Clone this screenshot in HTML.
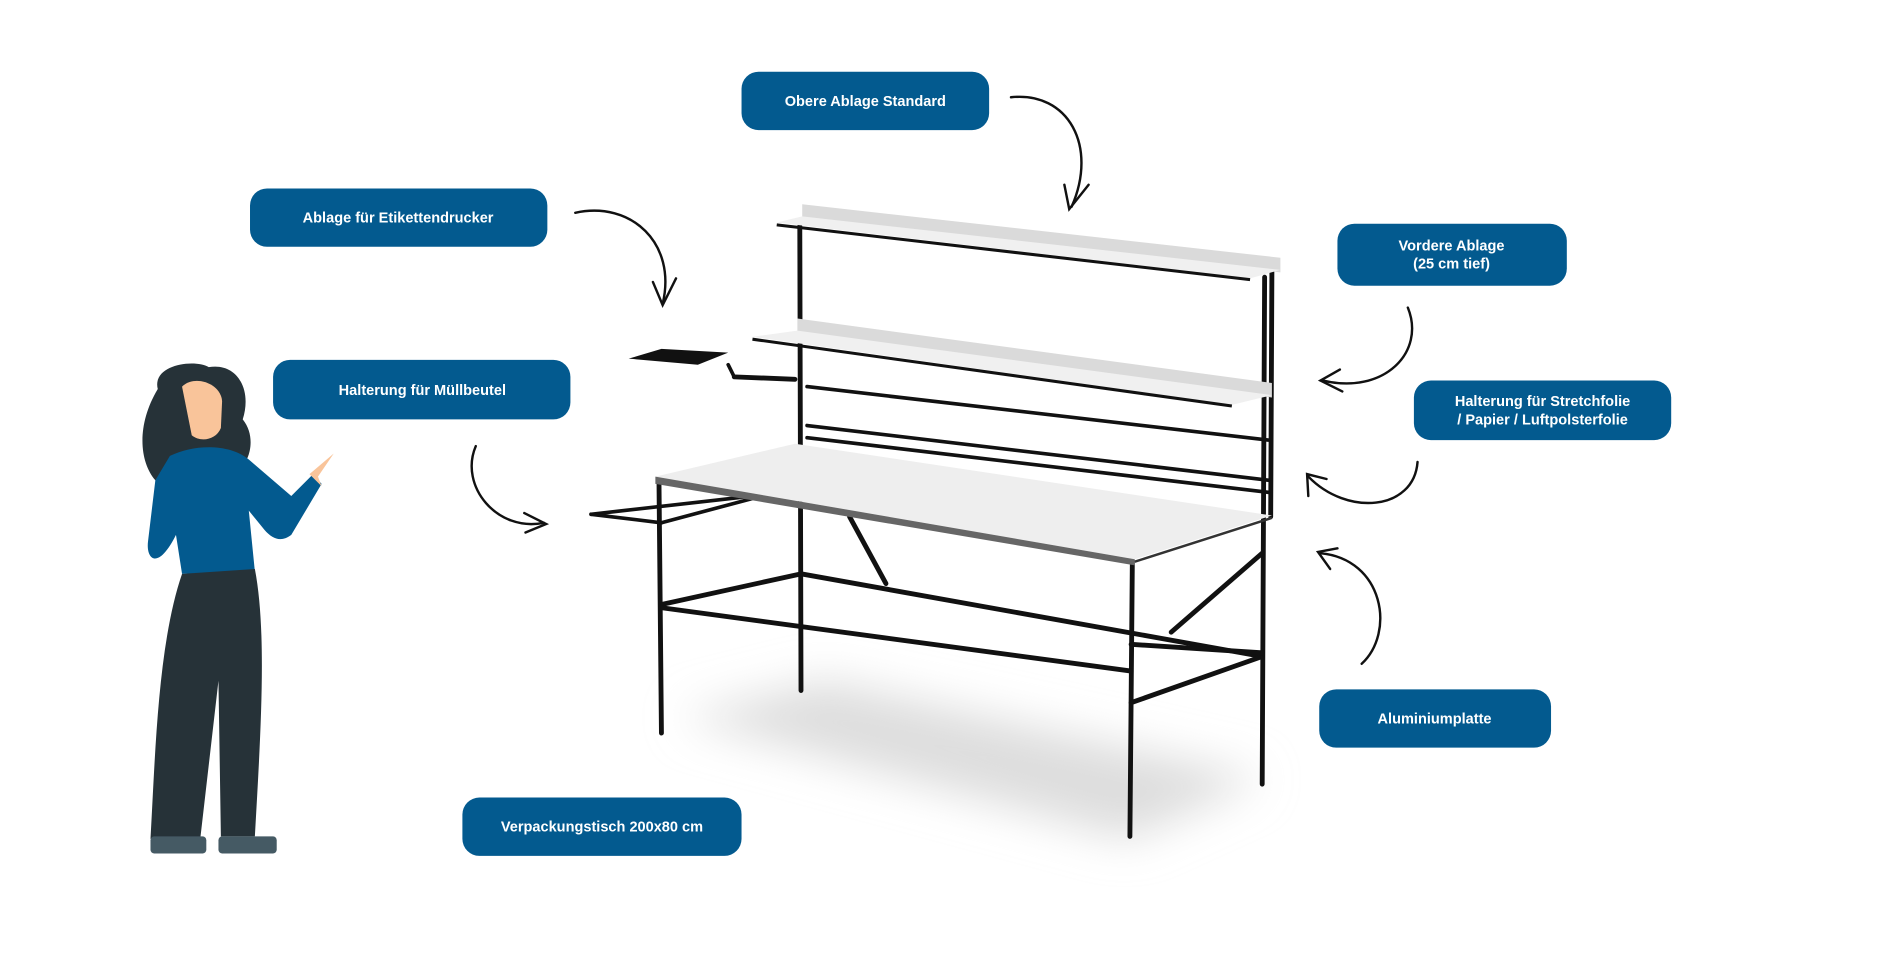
<!DOCTYPE html>
<html><head><meta charset="utf-8"><style>
html,body{margin:0;padding:0;background:#fff;width:1903px;height:958px;overflow:hidden}
svg{display:block}
text{font-family:"Liberation Sans",sans-serif;font-weight:bold;fill:#fff;font-size:12px}
</style></head><body>
<svg width="1903" height="958" viewBox="0 0 1568 788" preserveAspectRatio="none">
<defs><filter id="b" x="-50%" y="-50%" width="200%" height="200%"><feGaussianBlur stdDeviation="18"/></filter></defs>
<polygon points="560,590 680,560 1040,640 930,690" fill="#ddd" filter="url(#b)"/>
<g stroke="#111" stroke-width="4" fill="none" stroke-linecap="round">
<line x1="543" y1="398" x2="545" y2="603"/>
<line x1="659" y1="186" x2="660" y2="568"/>
<line x1="933" y1="462" x2="931" y2="688"/>
<line x1="1042" y1="228" x2="1040" y2="645"/>
<line x1="1048" y1="222" x2="1047" y2="425"/>
<line x1="546" y1="497" x2="660" y2="472"/>
<line x1="546" y1="500" x2="932" y2="552"/>
<line x1="660" y1="472" x2="1040" y2="540"/>
<line x1="932" y1="578" x2="1040" y2="540"/>
<line x1="700" y1="425" x2="730" y2="480"/>
<line x1="965" y1="520" x2="1040" y2="455"/>
<line x1="932" y1="530" x2="1040" y2="537"/>
<line x1="665" y1="318" x2="1045" y2="362" stroke-width="3"/>
<line x1="665" y1="350" x2="1045" y2="395" stroke-width="3"/>
<line x1="665" y1="360" x2="1045" y2="405" stroke-width="3"/>
<line x1="487" y1="423" x2="620" y2="408" stroke-width="3"/>
<line x1="487" y1="423" x2="545" y2="430" stroke-width="3"/>
<line x1="545" y1="430" x2="620" y2="410" stroke-width="3"/>
<line x1="600" y1="300" x2="605" y2="310" stroke-width="3"/>
<line x1="605" y1="310" x2="655" y2="312" stroke-width="4"/>
</g>
<polygon points="518,295 545,287 600,290 575,300" fill="#111"/>
<polygon points="661,168 1055,212 1055,224 661,180" fill="#dadada"/>
<polygon points="640,183 661,178 1055,222 1030,229" fill="#f0f0f0"/>
<line x1="640" y1="185" x2="1030" y2="230" stroke="#111" stroke-width="2.5"/>
<polygon points="657,262 1048,315 1048,327 657,274" fill="#dadada"/>
<polygon points="620,277 657,272 1048,325 1015,333" fill="#f0f0f0"/>
<line x1="620" y1="279" x2="1015" y2="334" stroke="#111" stroke-width="2.5"/>
<polygon points="540,392 655,365 1048,424 935,460" fill="#eeeeee"/>
<polygon points="540,392 935,460 935,465 540,398" fill="#666"/>
<line x1="935" y1="462" x2="1048" y2="426" stroke="#333" stroke-width="2"/>
<g stroke="#111" stroke-width="2" fill="none" stroke-linecap="round">
<path d="M833,80 C880,75 905,120 883,170"/><path d="M877,152 L881,172 L897,152"/>
<path d="M474,175 C520,165 558,200 546,250"/><path d="M538,232 L546,251 L557,229"/>
<path d="M392,367 C378,400 410,438 448,430"/><path d="M432,422 L450,431 L433,438"/>
<path d="M1160,253 C1175,290 1140,325 1090,313"/><path d="M1104,304 L1088,313 L1106,322"/>
<path d="M1168,380 C1165,420 1110,425 1078,392"/><path d="M1078,408 L1077,390 L1093,394"/>
<path d="M1122,546 C1150,520 1140,460 1088,455"/><path d="M1102,451 L1086,454 L1096,468"/>
</g>
<path d="M130,320 C125,300 160,295 172,302 C195,298 208,320 200,345 C212,360 205,380 198,385 C205,395 190,405 175,398 C160,410 135,408 128,395 C115,380 112,350 130,320Z" fill="#263238"/>
<path d="M150,318 C160,308 182,315 183,330 L182,352 C178,362 165,364 158,358 Z" fill="#f9c49a"/>
<path d="M140,375 C160,365 190,365 205,378 L240,408 L258,390 L265,398 L240,440 C232,446 225,444 218,436 L205,420 L210,470 L150,472 L145,440 C130,470 120,460 122,445 L128,395 Z" fill="#035a8f"/>
<path d="M255,390 L275,373 L262,392 L265,400 Z" fill="#f9c49a"/>
<path d="M150,472 L210,468 C220,520 215,600 210,688 L182,688 L180,560 L165,690 L124,690 C128,620 130,530 150,472Z" fill="#263238"/>
<rect x="124" y="688" width="46" height="14" rx="3" fill="#455a64"/>
<rect x="180" y="688" width="48" height="14" rx="3" fill="#455a64"/>
<g fill="#035a8f">
<rect x="611" y="59" width="204" height="48" rx="14"/>
<rect x="206" y="155" width="245" height="48" rx="14"/>
<rect x="225" y="296" width="245" height="49" rx="14"/>
<rect x="1102" y="184" width="189" height="51" rx="14"/>
<rect x="1165" y="313" width="212" height="49" rx="14"/>
<rect x="1087" y="567" width="191" height="48" rx="14"/>
<rect x="381" y="656" width="230" height="48" rx="14"/>
</g>
<g text-anchor="middle">
<text x="713" y="87">Obere Ablage Standard</text>
<text x="328" y="183">Ablage für Etikettendrucker</text>
<text x="348" y="325">Halterung für Müllbeutel</text>
<text x="1196" y="206">Vordere Ablage</text>
<text x="1196" y="221">(25 cm tief)</text>
<text x="1271" y="334">Halterung für Stretchfolie</text>
<text x="1271" y="349">/ Papier / Luftpolsterfolie</text>
<text x="1182" y="595">Aluminiumplatte</text>
<text x="496" y="684">Verpackungstisch 200x80 cm</text>
</g>
</svg>
</body></html>
